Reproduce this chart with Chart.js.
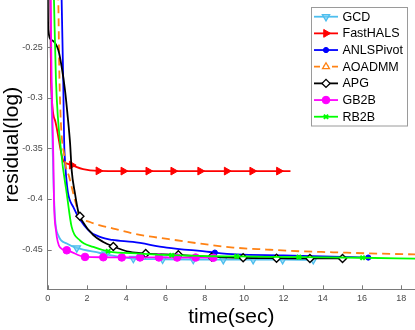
<!DOCTYPE html>
<html><head><meta charset="utf-8">
<script src="https://cdn.jsdelivr.net/npm/chart.js@4.4.1/dist/chart.umd.min.js"></script>
<style>html,body{margin:0;padding:0;background:#fff}#wrap{width:415px;height:330px;position:relative}</style>
</head><body><div id="wrap"><canvas id="c" width="415" height="330"></canvas></div>
<script>
// ---- data ----
const seriesNames = ['GCD','FastHALS','ANLSPivot','AOADMM','APG','GB2B','RB2B'];
const xTickValues = [0,2,4,6,8,10,12,14,16,18];
const yTickValues = [-0.45,-0.4,-0.35,-0.3,-0.25];

const gcdT = [0.08,0.12,0.19,0.29,0.37,0.54,0.97,1.48,2.66,3.17,4.36,5.85,7.41,8.94,10.46,11.96,13.52];
const gcdV = [-0.15,-0.2032,-0.30,-0.38,-0.418,-0.436,-0.444,-0.4484,-0.4534,-0.4556,-0.4589,-0.4596,-0.4599,-0.4600,-0.4600,-0.4600,-0.4601];
const gcdMarkT = [1.48,2.95,4.36,5.85,7.41,8.94,10.46,11.96,13.52];
const gcdMarkV = [-0.4484,-0.4545,-0.4589,-0.4596,-0.4599,-0.4600,-0.4600,-0.4600,-0.4601];

const halsT = [0.10,0.14,0.17,0.37,0.78,1.00,1.22,1.80,2.58,3.85,5.12,6.39,7.76,9.11,10.41,11.77,12.36];
const halsV = [-0.15,-0.2032,-0.2824,-0.322,-0.3616,-0.365,-0.3665,-0.3705,-0.3722,-0.3724,-0.3724,-0.3724,-0.3724,-0.3724,-0.3724,-0.3724,-0.3724];
const halsMarkT = [1.22,2.58,3.85,5.12,6.39,7.76,9.11,10.41,11.77];
const halsMarkV = [-0.3665,-0.3722,-0.3724,-0.3724,-0.3724,-0.3724,-0.3724,-0.3724,-0.3724];

const anlsT = [0.68,0.71,0.79,0.85,1.30,2.07,2.66,3.30,4.34,6.06,8.26,8.51,9.62,12.0,14.0,16.32];
const anlsV = [-0.17,-0.2032,-0.2824,-0.3517,-0.4078,-0.4309,-0.4375,-0.4405,-0.4425,-0.448,-0.4524,-0.453,-0.4548,-0.4557,-0.4567,-0.4579];
const anlsMarkT = [8.51,16.32];
const anlsMarkV = [-0.453,-0.4579];

const aoT = [0.50,0.54,0.60,0.88,1.10,1.39,1.61,2.15,2.66,3.34,4.36,5.37,6.56,7.75,9.45,11.15,12.84,14.53,16.23,18.7];
const aoV = [-0.17,-0.2032,-0.2824,-0.3616,-0.3785,-0.4012,-0.416,-0.4227,-0.426,-0.4292,-0.4342,-0.4375,-0.4408,-0.4441,-0.448,-0.45,-0.4517,-0.4527,-0.4537,-0.4548];
const aoMarkT = [];
const aoMarkV = [];

const apgT = [0.0,0.01,0.03,0.20,0.54,0.71,0.88,1.02,1.14,1.22,1.39,1.56,1.64,1.74,2.32,2.83,3.31,4.19,4.99,6.65,8.35,9.95,11.65,13.35,15.01];
const apgV = [-0.15,-0.2032,-0.2329,-0.2428,-0.2527,-0.2692,-0.2923,-0.3187,-0.3450,-0.3715,-0.3946,-0.4128,-0.4170,-0.4211,-0.4358,-0.4425,-0.4467,-0.4524,-0.4540,-0.4552,-0.4573,-0.4582,-0.4585,-0.4588,-0.4588];
const apgMarkT = [1.64,3.34,4.99,6.65,8.35,9.95,11.65,13.35,15.01];
const apgMarkV = [-0.4170,-0.4470,-0.4540,-0.4552,-0.4573,-0.4582,-0.4585,-0.4588,-0.4588];

const gb2bT = [0.10,0.15,0.20,0.29,0.32,0.42,0.63,0.97,1.90,2.83,3.77,4.70,5.66,6.59,7.53,8.43];
const gb2bV = [-0.15,-0.2032,-0.2824,-0.3616,-0.4012,-0.4309,-0.448,-0.4507,-0.4573,-0.4576,-0.4578,-0.4578,-0.4578,-0.4579,-0.4579,-0.4581];
const gb2bMarkT = [0.97,1.90,2.83,3.77,4.70,5.66,6.59,7.53,8.43];
const gb2bMarkV = [-0.4507,-0.4573,-0.4576,-0.4578,-0.4578,-0.4578,-0.4579,-0.4579,-0.4581];

const rb2bT = [0.28,0.32,0.42,0.70,0.97,1.22,1.64,2.32,3.08,4.70,6.31,8.26,9.62,12.79,16.03,18.7];
const rb2bV = [-0.17,-0.2032,-0.2824,-0.356,-0.3946,-0.4276,-0.4408,-0.4474,-0.4517,-0.454,-0.4556,-0.4566,-0.4568,-0.4575,-0.4581,-0.4589];
const rb2bMarkT = [3.08,6.31,9.62,12.79,16.03];
const rb2bMarkV = [-0.4517,-0.4556,-0.4568,-0.4575,-0.4581];

// ---- styles ----
const lineSets = [[gcdT,gcdV],[halsT,halsV],[anlsT,anlsV],[aoT,aoV],[apgT,apgV],[gb2bT,gb2bV],[rb2bT,rb2bV]];
const markSets = [[gcdMarkT,gcdMarkV],[halsMarkT,halsMarkV],[anlsMarkT,anlsMarkV],[aoMarkT,aoMarkV],[apgMarkT,apgMarkV],[gb2bMarkT,gb2bMarkV],[rb2bMarkT,rb2bMarkV]];
const styles = [
  {color:'#4DBEEE', fill:'rgba(120,205,242,0.6)', style:'triangle', rot:180, r:4.2, bw:1.3, dash:[]},
  {color:'#FF0000', fill:'#FF0000', style:'triangle', rot:90, r:4.5, bw:1, dash:[]},
  {color:'#0000FF', fill:'#0000FF', style:'circle', rot:0, r:2.6, bw:1, dash:[]},
  {color:'#FF8214', fill:'#FFFFFF', style:'triangle', rot:0, r:4, bw:1.3, dash:[8,5]},
  {color:'#000000', fill:'#FFFFFF', style:'rectRot', rot:0, r:4, bw:1.4, dash:[]},
  {color:'#FF00FF', fill:'#FF00FF', style:'circle', rot:0, r:3.8, bw:1, dash:[]},
  {color:'#00FF00', fill:'#00FF00', style:'crossRot', rot:0, r:3, bw:2, dash:[]}
];
const axisColor = '#7a7a7a';
const fontFam = '"Liberation Sans", Arial, Helvetica, sans-serif';

const toPts = (T,V) => T.map((t,i)=>({x:t,y:V[i]}));
const datasets = [];
seriesNames.forEach((name,i)=>{
  const s = styles[i];
  datasets.push({
    label:name, data:toPts(lineSets[i][0],lineSets[i][1]),
    borderColor:s.color, borderWidth:1.8, borderDash:s.dash, pointRadius:0,
    cubicInterpolationMode:'monotone', fill:false, clip:0, order:40-4*i
  });
  datasets.push({
    label:name+' markers', data:toPts(markSets[i][0],markSets[i][1]), showLine:false,
    pointStyle:s.style, pointRotation:s.rot, pointRadius:s.r, pointBorderWidth:s.bw,
    pointBorderColor:s.color, pointBackgroundColor:s.fill, clip:0, order:39-4*i
  });
});

const decor = {
  id:'decor',
  afterDraw(chart){
    const ctx = chart.ctx, a = chart.chartArea, xs = chart.scales.x, ys = chart.scales.y;
    ctx.save();
    ctx.strokeStyle = axisColor; ctx.lineWidth = 1;
    xTickValues.forEach(t=>{
      const px = Math.round(xs.getPixelForValue(t))+0.5;
      ctx.beginPath(); ctx.moveTo(px,a.bottom); ctx.lineTo(px,a.bottom-4); ctx.stroke();
    });
    yTickValues.forEach(v=>{
      const py = Math.round(ys.getPixelForValue(v))+0.5;
      ctx.beginPath(); ctx.moveTo(a.left,py); ctx.lineTo(a.left+4,py); ctx.stroke();
    });
    // legend
    const bx=311.5, by=7.5, bw=96, bh=118.5;
    ctx.fillStyle='#fff'; ctx.fillRect(bx,by,bw,bh);
    ctx.strokeStyle='#9a9a9a'; ctx.lineWidth=1; ctx.strokeRect(bx,by,bw,bh);
    seriesNames.forEach((name,i)=>{
      const s = styles[i], cy = 16.7 + i*16.67;
      ctx.save();
      ctx.strokeStyle = s.color; ctx.lineWidth = 1.8; ctx.setLineDash(s.dash.length?[6,3]:[]);
      ctx.beginPath(); ctx.moveTo(314,cy); ctx.lineTo(338,cy); ctx.stroke();
      ctx.setLineDash([]);
      ctx.fillStyle = s.fill; ctx.strokeStyle = s.color; ctx.lineWidth = s.bw;
      Chart.helpers.drawPoint(ctx,{pointStyle:s.style, rotation:s.rot, radius:s.r, borderWidth:s.bw},326,cy);
      ctx.restore();
      ctx.fillStyle='#000'; ctx.font='12.5px '+fontFam; ctx.textAlign='left'; ctx.textBaseline='middle';
      ctx.fillText(name,342.5,cy+0.5);
    });
    ctx.restore();
  }
};

new Chart(document.getElementById('c'),{
  type:'line',
  data:{datasets},
  options:{
    responsive:false, animation:false, devicePixelRatio:1,
    layout:{padding:0, autoPadding:false},
    plugins:{legend:{display:false}, tooltip:{enabled:false}},
    scales:{
      x:{type:'linear', min:0, max:18.7,
        afterBuildTicks:s=>{s.ticks = xTickValues.map(v=>({value:v}));},
        afterFit:s=>{s.height=40.7; s.paddingLeft=0; s.paddingRight=0;},
        grid:{display:false, drawTicks:false},
        border:{display:true, color:axisColor, width:1},
        ticks:{padding:4, color:'#4a4a4a', font:{family:fontFam, size:9}, maxRotation:0, autoSkip:false, callback:v=>String(v)},
        title:{display:true, text:'time(sec)', color:'#000', font:{family:fontFam, size:21}, padding:{top:0,bottom:0}}
      },
      y:{type:'linear', min:-0.4893, max:-0.2032,
        afterBuildTicks:s=>{s.ticks = yTickValues.map(v=>({value:v}));},
        afterFit:s=>{s.width=47.7; s.paddingTop=0; s.paddingBottom=0;},
        grid:{display:false, drawTicks:false},
        border:{display:true, color:axisColor, width:1},
        ticks:{padding:5, color:'#4a4a4a', font:{family:fontFam, size:9}, autoSkip:false, callback:v=>String(v)},
        title:{display:true, text:'residual(log)', color:'#000', font:{family:fontFam, size:21}, padding:{top:0,bottom:0}}
      }
    }
  },
  plugins:[decor]
});
</script>
</body></html>
